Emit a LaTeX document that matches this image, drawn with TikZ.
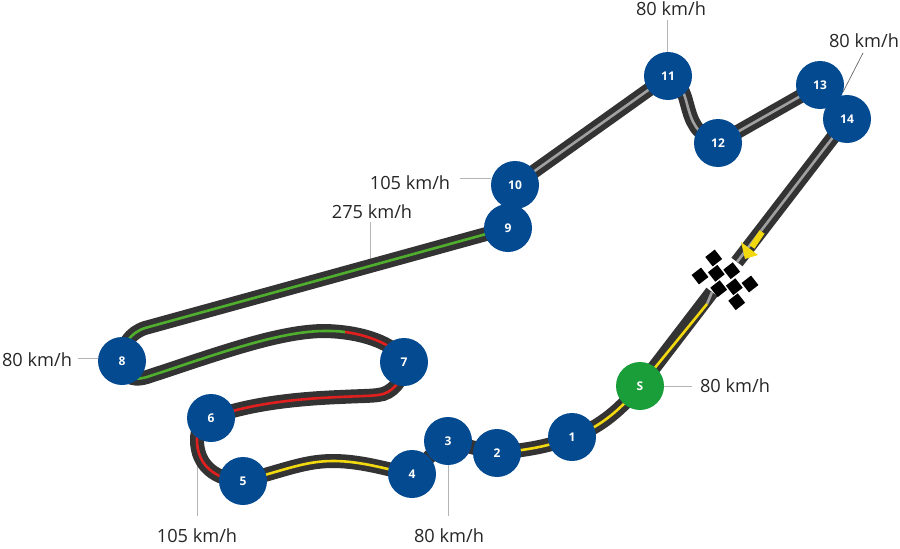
\documentclass[tikz,border=0pt]{standalone}
\usepackage{fontspec}
\setmainfont{Open Sans}
\pgfdeclarelayer{back}
\pgfsetlayers{back,main}
\definecolor{blu}{HTML}{044A90}
\definecolor{grn}{HTML}{1A9E3A}
\definecolor{trk}{HTML}{333333}
\definecolor{lgrn}{HTML}{4FAE2E}
\definecolor{lred}{HTML}{E01F1F}
\definecolor{lyel}{HTML}{F2D80F}
\definecolor{lgry}{HTML}{A0A0A0}
\definecolor{lead}{HTML}{B4B4B4}
\tikzset{
  turn/.style={circle,fill=blu,minimum size=48pt,inner sep=0pt,text=white,font=\fontsize{12}{12}\selectfont\bfseries},
  speed/.style={font=\fontsize{18.2}{18}\selectfont,text=black!85,inner sep=0pt},
  road/.style={draw=trk,line width=14pt,line cap=butt},
  mid/.style={line width=2.6pt,line cap=butt},
  leader/.style={draw=lead,line width=1pt},
  flag/.style={fill=black,draw=none,minimum size=12pt,inner sep=0pt,rotate=38}
}
\begin{document}
\begin{tikzpicture}[x=1pt,y=-1pt]
\useasboundingbox (0,0) rectangle (900,549);
% turns
\node[turn,fill=grn] (S) at (640,386) {S};
\node[turn] (n1) at (572,437) {1};
\node[turn] (n2) at (497,453) {2};
\node[turn] (n3) at (448,441) {3};
\node[turn] (n4) at (412,474) {4};
\node[turn] (n5) at (243,481) {5};
\node[turn] (n6) at (211,418) {6};
\node[turn] (n7) at (404,362) {7};
\node[turn] (n8) at (122,361) {8};
\node[turn] (n10) at (515,185) {10};
\node[turn] (n9) at (508,228) {9};
\node[turn] (n11) at (668,76) {11};
\node[turn] (n12) at (718,143) {12};
\node[turn] (n13) at (820,85) {13};
\node[turn] (n14) at (847,119) {14};
% speed labels
\node[speed] (a) at (671,9) {80 km/h};
\node[speed] (b) at (864,41) {80 km/h};
\node[speed] (c) at (735,386) {80 km/h};
\node[speed] (d) at (37,360) {80 km/h};
\node[speed] (e) at (410,183) {105 km/h};
\node[speed] (f) at (372,212) {275 km/h};
\node[speed] (g) at (197,536) {105 km/h};
\node[speed] (h) at (449,536) {80 km/h};
% checker flag
\foreach \x/\y in {713.7/258,700/276,716.3/273.3,731.7/270.7,718.7/288.7,734.3/286.7,750/284,736.7/301.7}
  \node[flag] at (\x,\y) {};
\begin{pgfonlayer}{back}
\coordinate (gapA) at (737,262);
\coordinate (gapB) at (712,292);
\coordinate (yelA) at (707,304);
\coordinate (arrA) at (762,232);
\coordinate (arrB) at (752,247);
\coordinate (tg1) at (370,262);
\coordinate (tg2) at (197,460);
\coordinate (tg3) at (448,465);
% leaders
\draw[leader] (n11.north) ++(-1,0) -- (667,20);
\draw[leader,draw=black!60,line width=.7pt] (843,92) -- (863,53);
\draw[leader] (S.east) -- (692,386);
\draw[leader] (n8.west) ++(0,-3) -- (78,358);
\draw[leader] (n10.west) ++(0,-7) -- (460,178);
\draw[leader] (tg1) -- (370,222);
\draw[leader] (tg2) -- (197,516);
\draw[leader] (tg3) -- (448,516);
% road: dark body
\draw[road] (n14.center) -- (gapA);
\draw[road] (gapB) -- (S.center);
\draw[road] (S.center) .. controls (622,408) and (600,428) .. (n1.center)
  .. controls (548,447) and (525,450) .. (n2.center)
  .. controls (480,450) and (465,445) .. (n3.center)
  .. controls (440,445) and (432,455) .. (n4.center);
\draw[road] (n4.center) .. controls (395,472) and (365,461) .. (333,461)
  .. controls (305,461) and (285,470) .. (n5.center)
  .. controls (215,480) and (197,465) .. (197,440)
  .. controls (197,430) and (200,422) .. (n6.center)
  .. controls (245,405) and (290,399) .. (340,397)
  .. controls (360,396) and (372,396) .. (378,395)
  .. controls (392,394) and (404,380) .. (n7.center)
  .. controls (400,348) and (370,332) .. (325,331)
  .. controls (280,331) and (220,353) .. (147,377)
  .. controls (130,382) and (122,375) .. (n8.center)
  .. controls (122,345) and (130,333) .. (145,328)
  -- (n9.center);
\draw[road] (n10.center) -- (n11.center);
\draw[road] (n11.center) .. controls (680,82) and (684,92) .. (687,104)
  .. controls (692,122) and (695,133) .. (n12.center) -- (n13.center);
% centre lines
\draw[mid,draw=lgry] (n14.center) -- (gapA);
\draw[mid,draw=lgry] (gapB) -- (yelA);
\draw[mid,draw=lyel] (yelA) -- (S.center);
\draw[mid,draw=lyel] (S.center) .. controls (622,408) and (600,428) .. (n1.center)
  .. controls (548,447) and (525,450) .. (n2.center);
\draw[mid,draw=lyel] (n4.center) .. controls (395,472) and (365,461) .. (333,461)
  .. controls (305,461) and (285,470) .. (n5.center);
\draw[mid,draw=lred] (n5.center)
  .. controls (215,480) and (197,465) .. (197,440)
  .. controls (197,430) and (200,422) .. (n6.center)
  .. controls (245,405) and (290,399) .. (340,397)
  .. controls (360,396) and (372,396) .. (378,395)
  .. controls (392,394) and (404,380) .. (n7.center)
  .. controls (400,348) and (370,335) .. (345,332);
\draw[mid,draw=lgrn] (345,332) .. controls (338,331) and (332,331) .. (325,331)
  .. controls (280,331) and (220,353) .. (147,377)
  .. controls (130,382) and (122,375) .. (n8.center)
  .. controls (122,345) and (130,333) .. (145,328)
  -- (n9.center);
\draw[mid,draw=lgry] (n10.center) -- (n11.center);
\draw[mid,draw=lgry] (n11.center) .. controls (680,82) and (684,92) .. (687,104)
  .. controls (692,122) and (695,133) .. (n12.center) -- (n13.center);
% direction arrow
\draw[draw=lyel,line width=6pt] (arrA) -- (arrB);
\fill[lyel] (741,242) -- (758,255) -- (745,259) -- cycle;
\end{pgfonlayer}
\end{tikzpicture}
\end{document}
